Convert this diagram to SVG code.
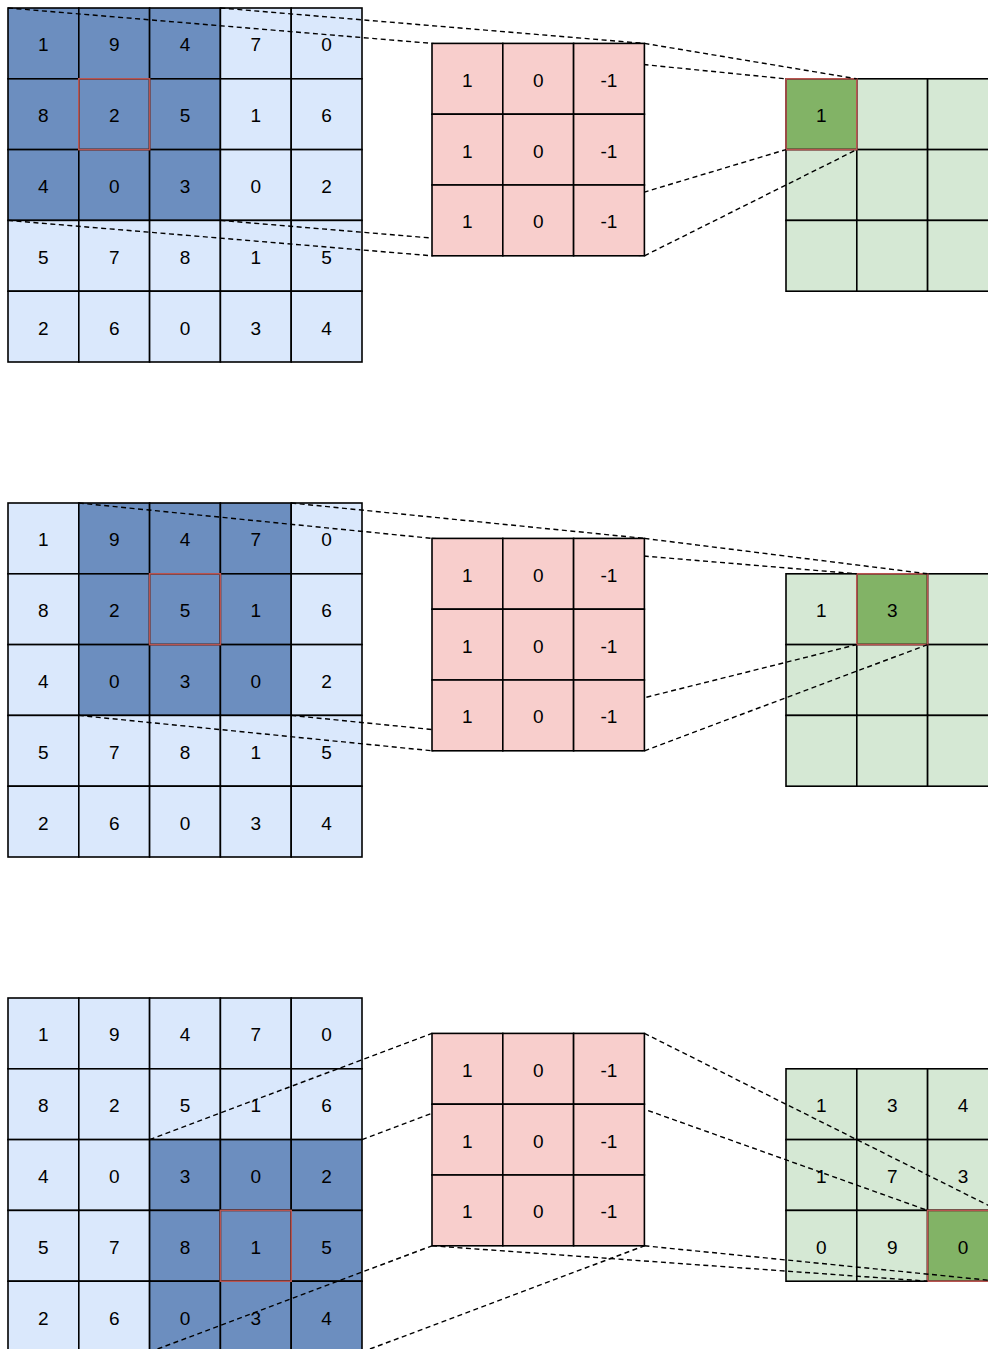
<svg xmlns="http://www.w3.org/2000/svg" width="988" height="1349" viewBox="0 0 988 1349">
<style>
rect{stroke:#000;stroke-width:1.6;width:70.8px;height:70.8px}
.lb{fill:#dae8fc}.db{fill:#6c8ebf}.pk{fill:#f8cecc}.lg{fill:#d5e8d4}.dg{fill:#82b366}
.hl{fill:none;stroke:#b85450;stroke-width:1.6}
text{font-family:"Liberation Sans",Arial,sans-serif;font-size:19px;text-anchor:middle;dominant-baseline:central;fill:#000;transform:translateY(1.5px)}
.dash{stroke:#000;stroke-width:1.4;stroke-dasharray:5 3.5;fill:none}
</style>
<rect width="988" height="1349" style="fill:#fff;stroke:none;width:988px;height:1349px"/>

<!-- ROW 1 -->
<g id="input1">
<rect class="db" x="8" y="8"/><rect class="db" x="78.8" y="8"/><rect class="db" x="149.6" y="8"/><rect class="lb" x="220.4" y="8"/><rect class="lb" x="291.2" y="8"/>
<rect class="db" x="8" y="78.8"/><rect class="db" x="78.8" y="78.8"/><rect class="db" x="149.6" y="78.8"/><rect class="lb" x="220.4" y="78.8"/><rect class="lb" x="291.2" y="78.8"/>
<rect class="db" x="8" y="149.6"/><rect class="db" x="78.8" y="149.6"/><rect class="db" x="149.6" y="149.6"/><rect class="lb" x="220.4" y="149.6"/><rect class="lb" x="291.2" y="149.6"/>
<rect class="lb" x="8" y="220.4"/><rect class="lb" x="78.8" y="220.4"/><rect class="lb" x="149.6" y="220.4"/><rect class="lb" x="220.4" y="220.4"/><rect class="lb" x="291.2" y="220.4"/>
<rect class="lb" x="8" y="291.2"/><rect class="lb" x="78.8" y="291.2"/><rect class="lb" x="149.6" y="291.2"/><rect class="lb" x="220.4" y="291.2"/><rect class="lb" x="291.2" y="291.2"/>
<rect class="hl" x="78.8" y="78.8"/>
<text x="43.4" y="43.4">1</text><text x="114.2" y="43.4">9</text><text x="185" y="43.4">4</text><text x="255.8" y="43.4">7</text><text x="326.6" y="43.4">0</text>
<text x="43.4" y="114.2">8</text><text x="114.2" y="114.2">2</text><text x="185" y="114.2">5</text><text x="255.8" y="114.2">1</text><text x="326.6" y="114.2">6</text>
<text x="43.4" y="185">4</text><text x="114.2" y="185">0</text><text x="185" y="185">3</text><text x="255.8" y="185">0</text><text x="326.6" y="185">2</text>
<text x="43.4" y="255.8">5</text><text x="114.2" y="255.8">7</text><text x="185" y="255.8">8</text><text x="255.8" y="255.8">1</text><text x="326.6" y="255.8">5</text>
<text x="43.4" y="326.6">2</text><text x="114.2" y="326.6">6</text><text x="185" y="326.6">0</text><text x="255.8" y="326.6">3</text><text x="326.6" y="326.6">4</text>
</g>
<g id="output1">
<rect class="dg" x="786" y="78.8"/><rect class="lg" x="856.8" y="78.8"/><rect class="lg" x="927.6" y="78.8"/>
<rect class="lg" x="786" y="149.6"/><rect class="lg" x="856.8" y="149.6"/><rect class="lg" x="927.6" y="149.6"/>
<rect class="lg" x="786" y="220.4"/><rect class="lg" x="856.8" y="220.4"/><rect class="lg" x="927.6" y="220.4"/>
<rect class="hl" x="786" y="78.8"/>
<text x="821.4" y="114.2">1</text>
</g>

<!-- ROW 2 -->
<g id="input2">
<rect class="lb" x="8" y="503"/><rect class="db" x="78.8" y="503"/><rect class="db" x="149.6" y="503"/><rect class="db" x="220.4" y="503"/><rect class="lb" x="291.2" y="503"/>
<rect class="lb" x="8" y="573.8"/><rect class="db" x="78.8" y="573.8"/><rect class="db" x="149.6" y="573.8"/><rect class="db" x="220.4" y="573.8"/><rect class="lb" x="291.2" y="573.8"/>
<rect class="lb" x="8" y="644.6"/><rect class="db" x="78.8" y="644.6"/><rect class="db" x="149.6" y="644.6"/><rect class="db" x="220.4" y="644.6"/><rect class="lb" x="291.2" y="644.6"/>
<rect class="lb" x="8" y="715.4"/><rect class="lb" x="78.8" y="715.4"/><rect class="lb" x="149.6" y="715.4"/><rect class="lb" x="220.4" y="715.4"/><rect class="lb" x="291.2" y="715.4"/>
<rect class="lb" x="8" y="786.2"/><rect class="lb" x="78.8" y="786.2"/><rect class="lb" x="149.6" y="786.2"/><rect class="lb" x="220.4" y="786.2"/><rect class="lb" x="291.2" y="786.2"/>
<rect class="hl" x="149.6" y="573.8"/>
<text x="43.4" y="538.4">1</text><text x="114.2" y="538.4">9</text><text x="185" y="538.4">4</text><text x="255.8" y="538.4">7</text><text x="326.6" y="538.4">0</text>
<text x="43.4" y="609.2">8</text><text x="114.2" y="609.2">2</text><text x="185" y="609.2">5</text><text x="255.8" y="609.2">1</text><text x="326.6" y="609.2">6</text>
<text x="43.4" y="680">4</text><text x="114.2" y="680">0</text><text x="185" y="680">3</text><text x="255.8" y="680">0</text><text x="326.6" y="680">2</text>
<text x="43.4" y="750.8">5</text><text x="114.2" y="750.8">7</text><text x="185" y="750.8">8</text><text x="255.8" y="750.8">1</text><text x="326.6" y="750.8">5</text>
<text x="43.4" y="821.6">2</text><text x="114.2" y="821.6">6</text><text x="185" y="821.6">0</text><text x="255.8" y="821.6">3</text><text x="326.6" y="821.6">4</text>
</g>
<g id="output2">
<rect class="lg" x="786" y="573.8"/><rect class="dg" x="856.8" y="573.8"/><rect class="lg" x="927.6" y="573.8"/>
<rect class="lg" x="786" y="644.6"/><rect class="lg" x="856.8" y="644.6"/><rect class="lg" x="927.6" y="644.6"/>
<rect class="lg" x="786" y="715.4"/><rect class="lg" x="856.8" y="715.4"/><rect class="lg" x="927.6" y="715.4"/>
<rect class="hl" x="856.8" y="573.8"/>
<text x="821.4" y="609.2">1</text><text x="892.2" y="609.2">3</text>
</g>

<!-- ROW 3 -->
<g id="input3">
<rect class="lb" x="8" y="998"/><rect class="lb" x="78.8" y="998"/><rect class="lb" x="149.6" y="998"/><rect class="lb" x="220.4" y="998"/><rect class="lb" x="291.2" y="998"/>
<rect class="lb" x="8" y="1068.8"/><rect class="lb" x="78.8" y="1068.8"/><rect class="lb" x="149.6" y="1068.8"/><rect class="lb" x="220.4" y="1068.8"/><rect class="lb" x="291.2" y="1068.8"/>
<rect class="lb" x="8" y="1139.6"/><rect class="lb" x="78.8" y="1139.6"/><rect class="db" x="149.6" y="1139.6"/><rect class="db" x="220.4" y="1139.6"/><rect class="db" x="291.2" y="1139.6"/>
<rect class="lb" x="8" y="1210.4"/><rect class="lb" x="78.8" y="1210.4"/><rect class="db" x="149.6" y="1210.4"/><rect class="db" x="220.4" y="1210.4"/><rect class="db" x="291.2" y="1210.4"/>
<rect class="lb" x="8" y="1281.2"/><rect class="lb" x="78.8" y="1281.2"/><rect class="db" x="149.6" y="1281.2"/><rect class="db" x="220.4" y="1281.2"/><rect class="db" x="291.2" y="1281.2"/>
<rect class="hl" x="220.4" y="1210.4"/>
<text x="43.4" y="1033.4">1</text><text x="114.2" y="1033.4">9</text><text x="185" y="1033.4">4</text><text x="255.8" y="1033.4">7</text><text x="326.6" y="1033.4">0</text>
<text x="43.4" y="1104.2">8</text><text x="114.2" y="1104.2">2</text><text x="185" y="1104.2">5</text><text x="255.8" y="1104.2">1</text><text x="326.6" y="1104.2">6</text>
<text x="43.4" y="1175">4</text><text x="114.2" y="1175">0</text><text x="185" y="1175">3</text><text x="255.8" y="1175">0</text><text x="326.6" y="1175">2</text>
<text x="43.4" y="1245.8">5</text><text x="114.2" y="1245.8">7</text><text x="185" y="1245.8">8</text><text x="255.8" y="1245.8">1</text><text x="326.6" y="1245.8">5</text>
<text x="43.4" y="1316.6">2</text><text x="114.2" y="1316.6">6</text><text x="185" y="1316.6">0</text><text x="255.8" y="1316.6">3</text><text x="326.6" y="1316.6">4</text>
</g>
<g id="output3">
<rect class="lg" x="786" y="1068.8"/><rect class="lg" x="856.8" y="1068.8"/><rect class="lg" x="927.6" y="1068.8"/>
<rect class="lg" x="786" y="1139.6"/><rect class="lg" x="856.8" y="1139.6"/><rect class="lg" x="927.6" y="1139.6"/>
<rect class="lg" x="786" y="1210.4"/><rect class="lg" x="856.8" y="1210.4"/><rect class="dg" x="927.6" y="1210.4"/>
<rect class="hl" x="927.6" y="1210.4"/>
<text x="821.4" y="1104.2">1</text><text x="892.2" y="1104.2">3</text><text x="963" y="1104.2">4</text>
<text x="821.4" y="1175">1</text><text x="892.2" y="1175">7</text><text x="963" y="1175">3</text>
<text x="821.4" y="1245.8">0</text><text x="892.2" y="1245.8">9</text><text x="963" y="1245.8">0</text>
</g>

<g id="connectors">
<line class="dash" x1="8" y1="8" x2="432" y2="43.4"/>
<line class="dash" x1="220.4" y1="8" x2="644.4" y2="43.4"/>
<line class="dash" x1="8" y1="220.4" x2="432" y2="255.8"/>
<line class="dash" x1="220.4" y1="220.4" x2="644.4" y2="255.8"/>
<line class="dash" x1="432" y1="43.4" x2="786" y2="78.8"/>
<line class="dash" x1="644.4" y1="43.4" x2="856.8" y2="78.8"/>
<line class="dash" x1="432" y1="255.8" x2="786" y2="149.6"/>
<line class="dash" x1="644.4" y1="255.8" x2="856.8" y2="149.6"/>

<line class="dash" x1="78.8" y1="503" x2="432" y2="538.4"/>
<line class="dash" x1="291.2" y1="503" x2="644.4" y2="538.4"/>
<line class="dash" x1="78.8" y1="715.4" x2="432" y2="750.8"/>
<line class="dash" x1="291.2" y1="715.4" x2="644.4" y2="750.8"/>
<line class="dash" x1="432" y1="538.4" x2="856.8" y2="573.8"/>
<line class="dash" x1="644.4" y1="538.4" x2="927.6" y2="573.8"/>
<line class="dash" x1="432" y1="750.8" x2="856.8" y2="644.6"/>
<line class="dash" x1="644.4" y1="750.8" x2="927.6" y2="644.6"/>

<line class="dash" x1="149.6" y1="1139.6" x2="432" y2="1033.4"/>
<line class="dash" x1="362" y1="1139.6" x2="644.4" y2="1033.4"/>
<line class="dash" x1="149.6" y1="1352" x2="432" y2="1245.8"/>
<line class="dash" x1="362" y1="1352" x2="644.4" y2="1245.8"/>
<line class="dash" x1="432" y1="1033.4" x2="927.6" y2="1210.4"/>
<line class="dash" x1="644.4" y1="1033.4" x2="998.4" y2="1210.4"/>
<line class="dash" x1="432" y1="1245.8" x2="927.6" y2="1281.2"/>
<line class="dash" x1="644.4" y1="1245.8" x2="998.4" y2="1281.2"/>
</g>

<g id="kernel1">
<rect class="pk" x="432" y="43.4"/><rect class="pk" x="502.8" y="43.4"/><rect class="pk" x="573.6" y="43.4"/>
<rect class="pk" x="432" y="114.2"/><rect class="pk" x="502.8" y="114.2"/><rect class="pk" x="573.6" y="114.2"/>
<rect class="pk" x="432" y="185"/><rect class="pk" x="502.8" y="185"/><rect class="pk" x="573.6" y="185"/>
<text x="467.4" y="78.8">1</text><text x="538.2" y="78.8">0</text><text x="609" y="78.8">-1</text>
<text x="467.4" y="149.6">1</text><text x="538.2" y="149.6">0</text><text x="609" y="149.6">-1</text>
<text x="467.4" y="220.4">1</text><text x="538.2" y="220.4">0</text><text x="609" y="220.4">-1</text>
</g>
<g id="kernel2">
<rect class="pk" x="432" y="538.4"/><rect class="pk" x="502.8" y="538.4"/><rect class="pk" x="573.6" y="538.4"/>
<rect class="pk" x="432" y="609.2"/><rect class="pk" x="502.8" y="609.2"/><rect class="pk" x="573.6" y="609.2"/>
<rect class="pk" x="432" y="680"/><rect class="pk" x="502.8" y="680"/><rect class="pk" x="573.6" y="680"/>
<text x="467.4" y="573.8">1</text><text x="538.2" y="573.8">0</text><text x="609" y="573.8">-1</text>
<text x="467.4" y="644.6">1</text><text x="538.2" y="644.6">0</text><text x="609" y="644.6">-1</text>
<text x="467.4" y="715.4">1</text><text x="538.2" y="715.4">0</text><text x="609" y="715.4">-1</text>
</g>
<g id="kernel3">
<rect class="pk" x="432" y="1033.4"/><rect class="pk" x="502.8" y="1033.4"/><rect class="pk" x="573.6" y="1033.4"/>
<rect class="pk" x="432" y="1104.2"/><rect class="pk" x="502.8" y="1104.2"/><rect class="pk" x="573.6" y="1104.2"/>
<rect class="pk" x="432" y="1175"/><rect class="pk" x="502.8" y="1175"/><rect class="pk" x="573.6" y="1175"/>
<text x="467.4" y="1068.8">1</text><text x="538.2" y="1068.8">0</text><text x="609" y="1068.8">-1</text>
<text x="467.4" y="1139.6">1</text><text x="538.2" y="1139.6">0</text><text x="609" y="1139.6">-1</text>
<text x="467.4" y="1210.4">1</text><text x="538.2" y="1210.4">0</text><text x="609" y="1210.4">-1</text>
</g>
</svg>
